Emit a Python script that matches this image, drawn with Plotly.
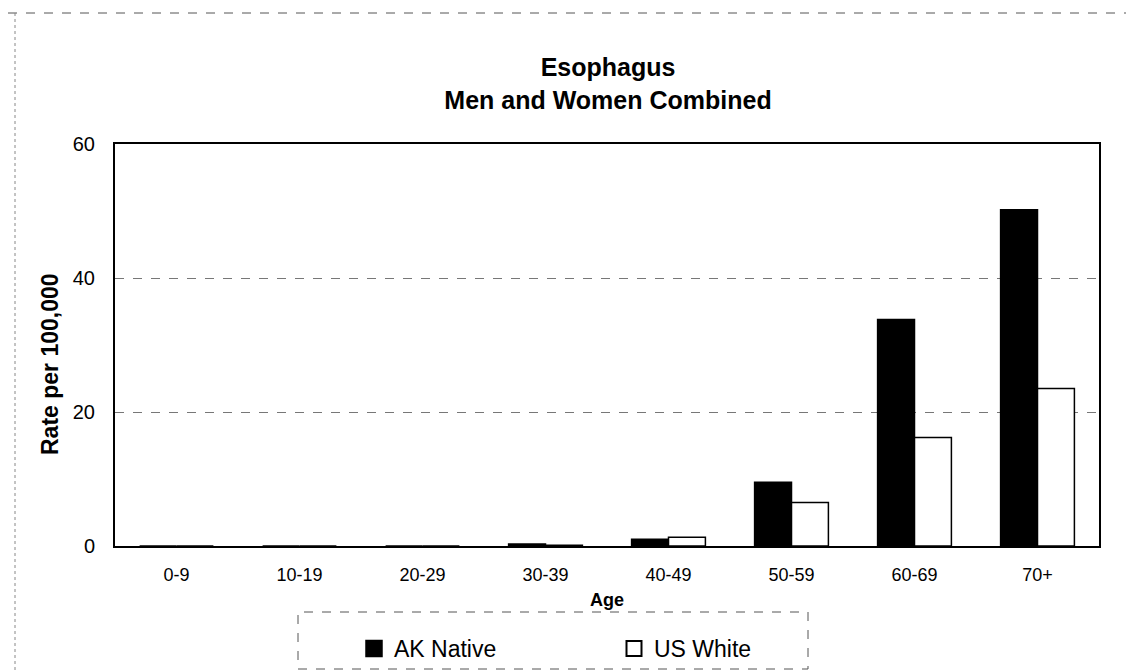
import plotly.graph_objects as go

ages = ["0-9", "10-19", "20-29", "30-39", "40-49", "50-59", "60-69", "70+"]
ak_native = [0.0, 0.0, 0.0, 0.3, 1.0, 9.5, 33.8, 50.2]
us_white = [0.0, 0.0, 0.0, 0.1, 1.3, 6.5, 16.2, 23.5]
series_names = ["AK Native", "US White"]
y_ticks = [0, 20, 40, 60]

FONT = "Liberation Sans, Arial, sans-serif"

fig = go.Figure()
fig.add_trace(go.Bar(x=ages, y=ak_native, name=series_names[0], showlegend=False,
                     marker=dict(color="black", line=dict(color="black", width=1.5))))
fig.add_trace(go.Bar(x=ages, y=us_white, name=series_names[1], showlegend=False,
                     marker=dict(color="white", line=dict(color="black", width=1.5))))
# legend entries (square swatches like the original)
fig.add_trace(go.Scatter(x=[None], y=[None], mode="markers", name=series_names[0],
                         marker=dict(symbol="square", size=16, color="black",
                                     line=dict(color="black", width=1.5))))
fig.add_trace(go.Scatter(x=[None], y=[None], mode="markers", name=series_names[1],
                         marker=dict(symbol="square", size=15, color="white",
                                     line=dict(color="black", width=2))))

L, R, T, B = 107, 1091, 136, 538
W, H = R - L, B - T
def px(x):
    return (x - L) / W
def py(y):
    return (B - y) / H

fig.update_layout(
    width=1134, height=670,
    paper_bgcolor="white", plot_bgcolor="white",
    margin=dict(l=L, r=1134 - R, t=T, b=670 - B, autoexpand=False),
    barmode="group", bargap=0.4, bargroupgap=0.0,
    font=dict(family=FONT, color="black"),
    title=dict(text="<b>Esophagus<br>Men and Women Combined</b>",
               x=600 / 1134, xanchor="center", xref="container",
               y=1 - 68 / 670, yanchor="middle", yref="container",
               font=dict(size=25, family=FONT)),
    xaxis=dict(showline=True, linecolor="black", linewidth=2, mirror=True,
               ticks="", tickfont=dict(size=18), automargin=False,
               ticklabelstandoff=11,
               title=dict(text="<b>Age</b>", font=dict(size=18), standoff=10)),
    yaxis=dict(range=[0, 60], tickvals=y_ticks, showline=True, linecolor="black",
               linewidth=2, mirror=True, ticks="", automargin=False,
               showgrid=True, gridcolor="#777", griddash="dash", gridwidth=1,
               zeroline=False, tickfont=dict(size=20), ticklabelstandoff=14),
    legend=dict(orientation="h", xref="container", yref="container",
                x=346 / 1134, xanchor="left", y=1 - 619 / 670, yanchor="top",
                font=dict(size=23), entrywidth=215, bgcolor="rgba(0,0,0,0)",
                itemsizing="trace"),
    showlegend=True,
)

# y-axis title
fig.add_annotation(text="<b>Rate per 100,000</b>", textangle=-90,
                   xref="paper", yref="paper", x=px(42), y=py(356),
                   xanchor="center", yanchor="middle", showarrow=False,
                   font=dict(size=23, family=FONT))

# dashed legend box
fig.add_shape(type="rect", xref="paper", yref="paper",
              x0=px(290), x1=px(800), y0=py(661), y1=py(604),
              line=dict(color="#555", width=1, dash="dash"))
# dashed outer scan edges
fig.add_shape(type="line", xref="paper", yref="paper",
              x0=px(0), x1=px(1134), y0=py(5), y1=py(5),
              line=dict(color="#555", width=1, dash="dash"))
fig.add_shape(type="line", xref="paper", yref="paper",
              x0=px(7), x1=px(7), y0=py(5), y1=py(670),
              line=dict(color="#888", width=1, dash="dot"))

fig.write_html("out.html")
